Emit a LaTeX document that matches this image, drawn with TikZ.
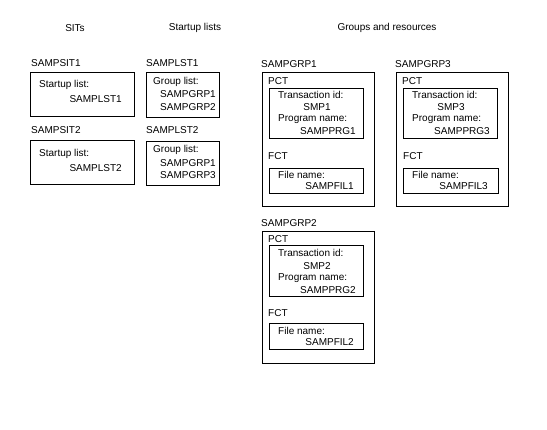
\documentclass[tikz,border=0pt]{standalone}
\usepackage{fontspec}
\setmainfont{Liberation Sans}
\begin{document}
\begin{tikzpicture}[x=1pt,y=-1pt,
  box/.style={draw=black,line width=0.9pt,inner sep=0pt,anchor=north west},
  txt/.style={inner sep=0pt,font=\fontsize{10}{12}\selectfont},
  lt/.style={txt,anchor=west},
  rt/.style={txt,anchor=east},
  ct/.style={txt,anchor=center}]
\useasboundingbox (0,0) rectangle (547,430);
% headers
\node[ct] (h1) at (75,28) {SITs};
\node[ct] (h2) at (195,28) {Startup lists};
\node[ct] (h3) at (387,28) {Groups and resources};
% SITs
\node[lt] (sit1l) at (31,63) {SAMPSIT1};
\node[box,minimum width=104,minimum height=44] (sit1) at (30,72) {};
\node[lt] (sit1a) at (39,85) {Startup list:};
\node[rt] (sit1b) at (122,99) {SAMPLST1};
\node[lt] (sit2l) at (31,130) {SAMPSIT2};
\node[box,minimum width=104,minimum height=44] (sit2) at (30,140) {};
\node[lt] (sit2a) at (39,154) {Startup list:};
\node[rt] (sit2b) at (122,168) {SAMPLST2};
% Startup lists
\node[lt] (lst1l) at (146,63) {SAMPLST1};
\node[box,minimum width=73,minimum height=45] (lst1) at (146,72) {};
\node[lt] (lst1a) at (153,82) {Group list:};
\node[rt] (lst1b) at (216,94) {SAMPGRP1};
\node[rt] (lst1c) at (216,107) {SAMPGRP2};
\node[lt] (lst2l) at (146,130) {SAMPLST2};
\node[box,minimum width=73,minimum height=44] (lst2) at (146,141) {};
\node[lt] (lst2a) at (153,150) {Group list:};
\node[rt] (lst2b) at (216,163) {SAMPGRP1};
\node[rt] (lst2c) at (216,175) {SAMPGRP3};
% SAMPGRP1
\node[lt] (g1l) at (261,64) {SAMPGRP1};
\node[box,minimum width=112,minimum height=134] (g1) at (262,72) {};
\node[lt] (g1p) at (268,81) {PCT};
\node[box,minimum width=94,minimum height=50] (g1pb) at (269,88) {};
\node[lt] (g1a) at (278,95) {Transaction id:};
\node[ct] (g1b) at (317,107) {SMP1};
\node[lt] (g1c) at (278,119) {Program name:};
\node[rt] (g1d) at (356,131) {SAMPPRG1};
\node[lt] (g1f) at (268,156) {FCT};
\node[box,minimum width=94,minimum height=25] (g1fb) at (269,168) {};
\node[lt] (g1g) at (278,175) {File name:};
\node[rt] (g1h) at (354,186) {SAMPFIL1};
% SAMPGRP3
\node[lt] (g3l) at (395,64) {SAMPGRP3};
\node[box,minimum width=112,minimum height=134] (g3) at (396,72) {};
\node[lt] (g3p) at (402,81) {PCT};
\node[box,minimum width=94,minimum height=50] (g3pb) at (403,88) {};
\node[lt] (g3a) at (412,95) {Transaction id:};
\node[ct] (g3b) at (451,107) {SMP3};
\node[lt] (g3c) at (412,119) {Program name:};
\node[rt] (g3d) at (490,131) {SAMPPRG3};
\node[lt] (g3f) at (403,156) {FCT};
\node[box,minimum width=95,minimum height=25] (g3fb) at (403,168) {};
\node[lt] (g3g) at (412,175) {File name:};
\node[rt] (g3h) at (488,186) {SAMPFIL3};
% SAMPGRP2
\node[lt] (g2l) at (261,223) {SAMPGRP2};
\node[box,minimum width=112,minimum height=132] (g2) at (262,231) {};
\node[lt] (g2p) at (268,239) {PCT};
\node[box,minimum width=94,minimum height=51] (g2pb) at (269,245) {};
\node[lt] (g2a) at (278,253) {Transaction id:};
\node[ct] (g2b) at (317,266) {SMP2};
\node[lt] (g2c) at (278,278) {Program name:};
\node[rt] (g2d) at (356,290) {SAMPPRG2};
\node[lt] (g2f) at (268,313) {FCT};
\node[box,minimum width=94,minimum height=26] (g2fb) at (269,323) {};
\node[lt] (g2g) at (278,331) {File name:};
\node[rt] (g2h) at (354,342) {SAMPFIL2};
\end{tikzpicture}
\end{document}
